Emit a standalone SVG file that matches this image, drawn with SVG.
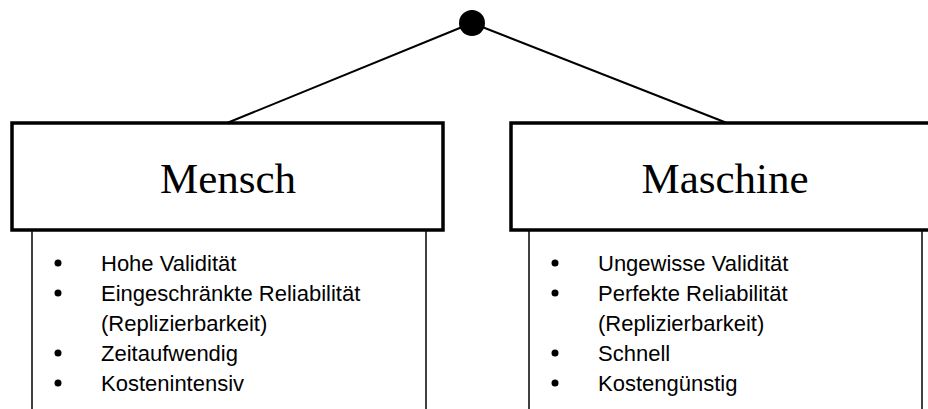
<svg xmlns="http://www.w3.org/2000/svg" width="928" height="409" viewBox="0 0 928 409">
<style>
.hdr{fill:#fff;stroke:#000;stroke-width:3.5}
.side{stroke:#000;stroke-width:1.5;fill:none}
.title{font-family:"Liberation Serif","DejaVu Serif",serif;font-size:43px;fill:#000;text-anchor:middle}
.item{font-family:"Liberation Sans",Arial,sans-serif;font-size:22px;fill:#000}
.conn{stroke:#000;stroke-width:2;fill:none}
.bul{fill:#000}
</style>
<rect width="928" height="409" fill="#fff"/>
<g id="connectors">
<line class="conn" x1="472" y1="23" x2="227" y2="123"/>
<line class="conn" x1="472" y1="23" x2="727" y2="123"/>
</g>
<g id="root">
<circle cx="472" cy="23" r="13" fill="#000"/>
</g>
<g id="mensch">
<line class="side" x1="32" y1="230" x2="32" y2="409"/>
<line class="side" x1="426" y1="230" x2="426" y2="409"/>
<rect class="hdr" x="12" y="123" width="431" height="107"/>
<text class="title" x="228" y="193">Mensch</text>
<circle class="bul" cx="58" cy="263" r="3.5"/>
<circle class="bul" cx="58" cy="293" r="3.5"/>
<circle class="bul" cx="58" cy="353" r="3.5"/>
<circle class="bul" cx="58" cy="383" r="3.5"/>
<text class="item" x="101" y="271">Hohe Validität</text>
<text class="item" x="101" y="301">Eingeschränkte Reliabilität</text>
<text class="item" x="101" y="331">(Replizierbarkeit)</text>
<text class="item" x="101" y="361">Zeitaufwendig</text>
<text class="item" x="101" y="391">Kostenintensiv</text>
</g>
<g id="maschine">
<line class="side" x1="529" y1="230" x2="529" y2="409"/>
<line class="side" x1="922" y1="230" x2="922" y2="409"/>
<rect class="hdr" x="511" y="123" width="430" height="107"/>
<text class="title" x="725" y="193">Maschine</text>
<circle class="bul" cx="555" cy="263" r="3.5"/>
<circle class="bul" cx="555" cy="293" r="3.5"/>
<circle class="bul" cx="555" cy="353" r="3.5"/>
<circle class="bul" cx="555" cy="383" r="3.5"/>
<text class="item" x="598" y="271">Ungewisse Validität</text>
<text class="item" x="598" y="301">Perfekte Reliabilität</text>
<text class="item" x="598" y="331">(Replizierbarkeit)</text>
<text class="item" x="598" y="361">Schnell</text>
<text class="item" x="598" y="391">Kostengünstig</text>
</g>
</svg>
